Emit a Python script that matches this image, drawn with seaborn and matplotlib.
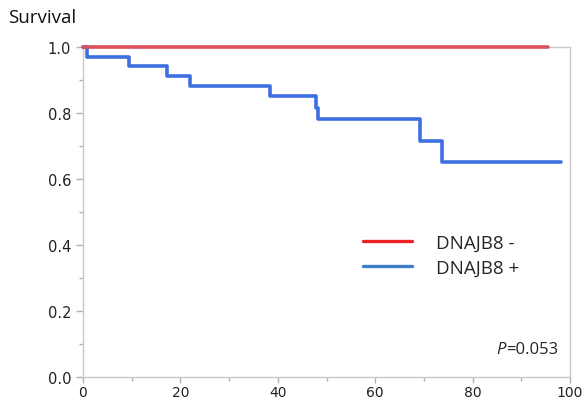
import numpy as np
import pandas as pd
import matplotlib
matplotlib.use("Agg")
import matplotlib.pyplot as plt
import seaborn as sns
from matplotlib.lines import Line2D
from matplotlib.ticker import MultipleLocator

# Kaplan-Meier step points
neg_time = [0, 95.4]
neg_surv = [1.0, 1.0]

pos_time = [0, 0.8, 9.5, 17.3, 22.0, 38.4, 47.8, 48.2, 69.3, 73.7, 98.2]
pos_surv = [1.0, 0.970, 0.942, 0.912, 0.882, 0.852, 0.815, 0.782, 0.716, 0.652, 0.652]

group_labels = ["DNAJB8 -", "DNAJB8 +"]
p_value = "=0.053"

sns.set_style("white")
plt.rcParams["font.family"] = ["DejaVu Sans"]

fig = plt.figure(figsize=(5.82, 4.02), dpi=100)
ax = fig.add_axes([0.1426, 0.0597, 0.8368, 0.8209])

neg_df = pd.DataFrame({"time": neg_time, "surv": neg_surv})
pos_df = pd.DataFrame({"time": pos_time, "surv": pos_surv})

sns.lineplot(data=pos_df, x="time", y="surv", ax=ax, color="#3d6fe0",
             linewidth=2.6, drawstyle="steps-post", estimator=None, sort=False)
sns.lineplot(data=neg_df, x="time", y="surv", ax=ax, color="#dc4f5e",
             linewidth=2.6, drawstyle="steps-post", estimator=None, sort=False)
for ln in ax.lines:
    ln.set_clip_on(False)
    ln.set_zorder(5)

ax.set_xlim(0, 100)
ax.set_ylim(0, 1.0)
ax.xaxis.set_major_locator(MultipleLocator(20))
ax.xaxis.set_minor_locator(MultipleLocator(10))
ax.yaxis.set_major_locator(MultipleLocator(0.2))
ax.yaxis.set_minor_locator(MultipleLocator(0.1))
ax.yaxis.set_major_formatter(matplotlib.ticker.FormatStrFormatter("%.1f"))
ax.set_xlabel("")
ax.set_ylabel("")

for s in ax.spines.values():
    s.set_color("#c8c8c8")
    s.set_linewidth(1.0)
ax.tick_params(which="both", direction="out", color="#b0b0b0", width=1.0,
               labelcolor="#222222")
ax.tick_params(axis="y", labelsize=10.5)
ax.tick_params(axis="x", labelsize=10, pad=1.5)
ax.tick_params(which="major", length=5, left=True, bottom=True)
ax.tick_params(axis="x", which="major", length=4)
ax.tick_params(which="minor", length=3, left=True, bottom=True)

fig.text(0.014, 0.955, "Survival", fontsize=13.5, family="Open Sans",
         ha="left", va="center", color="#111111")

handles = [Line2D([], [], color="#ee2222", lw=2.4),
           Line2D([], [], color="#3f7fc8", lw=2.4)]
leg = ax.legend(handles, group_labels, loc="upper left",
                bbox_to_anchor=(0.54, 0.485), frameon=False,
                handlelength=2.6, handletextpad=1.3, labelspacing=0.38,
                prop={"family": "Open Sans", "size": 13.5})

# P value: italic P followed by the number
txt = ax.text(0.975, 0.085, p_value, transform=ax.transAxes, fontsize=12,
              family="Open Sans", ha="right", va="center")
fig.canvas.draw()
bb = txt.get_window_extent(fig.canvas.get_renderer())
x_left = ax.transAxes.inverted().transform((bb.x0, bb.y0))[0]
ax.text(x_left, 0.085, "P", transform=ax.transAxes, fontsize=12,
        family="Open Sans", style="italic", ha="right", va="center")

fig.savefig("out.png", dpi=100)
